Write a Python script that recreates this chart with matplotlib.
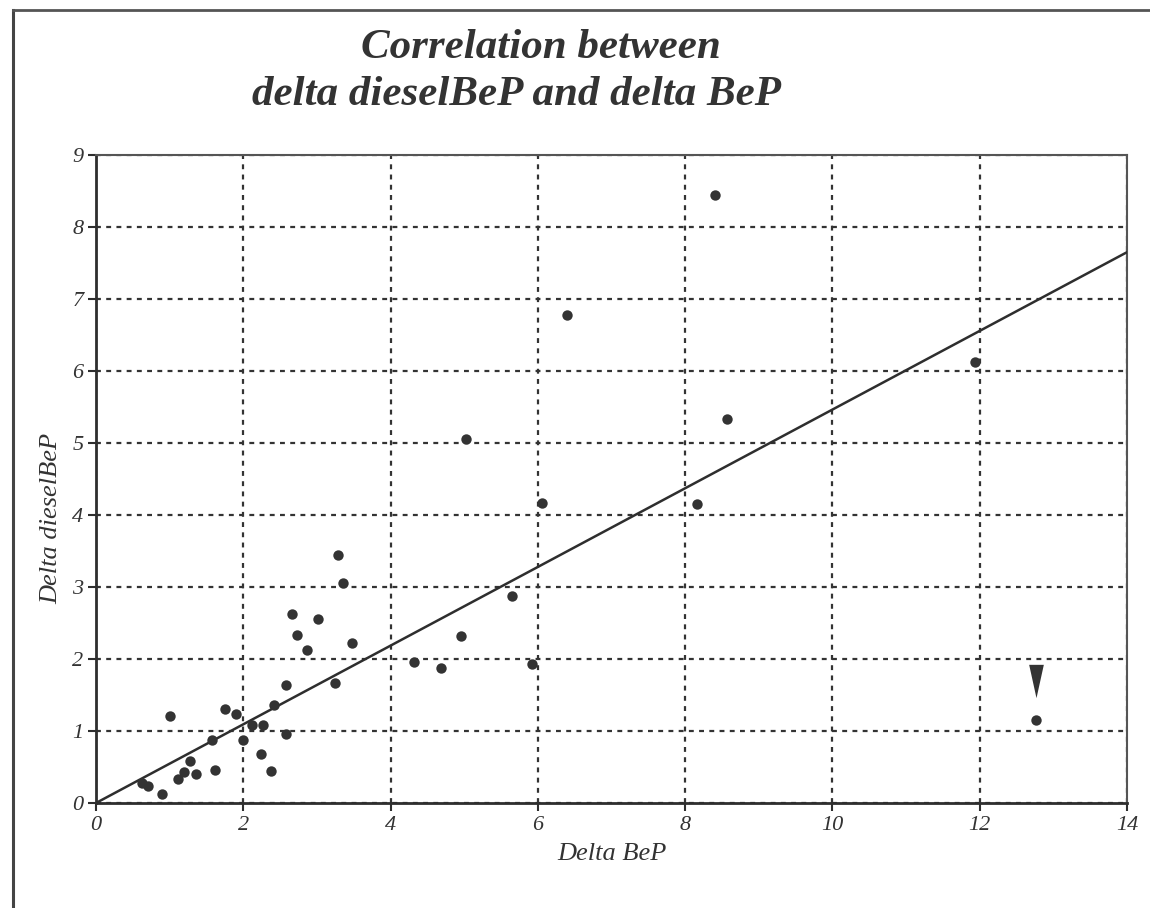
import matplotlib
matplotlib.use("Agg")
import matplotlib.pyplot as plt
from matplotlib.lines import Line2D
from matplotlib.path import Path


OUTPUT_PATH = "out.png"

# Measured pairs: delta BeP (x) against delta dieselBeP (y)
delta_bep = [
    0.63, 0.70, 0.90, 1.00, 1.12, 1.19, 1.27, 1.36, 1.61, 1.58,
    1.75, 1.90, 2.00, 2.12, 2.27, 2.24, 2.37, 2.42, 2.58, 2.58,
    2.66, 2.73, 2.87, 3.02, 3.24, 3.36, 3.48, 3.28, 4.32, 4.68,
    4.95, 5.02, 5.65, 5.92, 6.06, 6.40, 8.16, 8.40, 8.57, 11.93,
    12.76,
]
delta_diesel_bep = [
    0.28, 0.24, 0.12, 1.21, 0.33, 0.43, 0.58, 0.40, 0.46, 0.87,
    1.30, 1.24, 0.87, 1.09, 1.09, 0.68, 0.44, 1.36, 0.96, 1.64,
    2.62, 2.34, 2.13, 2.56, 1.67, 3.05, 2.22, 3.44, 1.96, 1.87,
    2.32, 5.05, 2.88, 1.93, 4.16, 6.78, 4.15, 8.45, 5.33, 6.12,
    1.15,
]

# Regression line end points
fit_x = [0, 14]
fit_y = [0, 7.65]

# Point singled out with a pointer above it
FLAGGED_INDEX = 40
POINTER_OFFSET = 0.54

x_ticks = [0, 2, 4, 6, 8, 10, 12, 14]
y_ticks = [0, 1, 2, 3, 4, 5, 6, 7, 8, 9]

TITLE_LINE_1 = "Correlation between"
TITLE_LINE_2 = "delta dieselBeP and delta BeP"
X_LABEL = "Delta BeP"
Y_LABEL = "Delta dieselBeP"

INK = "#2e2e2e"
SERIF = "Liberation Serif"


def draw_page_frame(fig):
    left = 13 / 1150
    top = 1 - 10 / 908
    fig.add_artist(Line2D([left, left], [0, top], lw=2.2, color="#444444"))
    fig.add_artist(Line2D([left, 1], [top, top], lw=2.0, color="#555555"))


def plot_correlation():
    fig = plt.figure(figsize=(11.5, 9.08), dpi=100)
    fig.patch.set_facecolor("white")
    draw_page_frame(fig)

    fig.text(541 / 1150, 1 - 58 / 908, TITLE_LINE_1, ha="center", va="baseline",
             fontsize=31, family=SERIF, style="italic", weight="bold", color="#333333")
    fig.text(517 / 1150, 1 - 105 / 908, TITLE_LINE_2, ha="center", va="baseline",
             fontsize=31, family=SERIF, style="italic", weight="bold", color="#333333")

    ax = fig.add_axes([96 / 1150, 105 / 908, 1031 / 1150, 648 / 908])
    ax.set_xlim(0, 14)
    ax.set_ylim(0, 9)
    ax.set_xticks(x_ticks)
    ax.set_yticks(y_ticks)

    ax.grid(True, linestyle=(0, (2.2, 2.4)), linewidth=1.6, color="#333333")
    ax.set_axisbelow(True)

    ax.plot(fit_x, fit_y, color=INK, lw=1.8, zorder=3)
    ax.scatter(delta_bep, delta_diesel_bep, s=56, color="#333333", linewidths=0, zorder=4)

    pointer = Path([(-0.22, 0.5), (0.22, 0.5), (0, -0.5), (-0.22, 0.5)],
                   [Path.MOVETO, Path.LINETO, Path.LINETO, Path.CLOSEPOLY])
    ax.scatter([delta_bep[FLAGGED_INDEX]],
               [delta_diesel_bep[FLAGGED_INDEX] + POINTER_OFFSET],
               marker=pointer, s=576, color="#333333", linewidths=0, zorder=4)

    for side in ["left", "bottom"]:
        ax.spines[side].set_linewidth(2.0)
        ax.spines[side].set_color(INK)
    for side in ["top", "right"]:
        ax.spines[side].set_linewidth(1.5)
        ax.spines[side].set_color("#555555")

    ax.tick_params(axis="both", direction="out", length=6, width=1.5, color=INK,
                   labelsize=16, labelcolor="#333333", pad=3)
    for label in ax.get_xticklabels() + ax.get_yticklabels():
        label.set_family(SERIF)
        label.set_style("italic")

    ax.set_xlabel(X_LABEL, fontsize=19, family=SERIF, style="italic", color="#333333", labelpad=6)
    ax.set_ylabel(Y_LABEL, fontsize=19, family=SERIF, style="italic", color="#333333")
    ax.yaxis.set_label_coords(-0.033, 3.95 / 9)

    fig.savefig(OUTPUT_PATH, dpi=100)
    plt.close(fig)


if __name__ == "__main__":
    plot_correlation()
